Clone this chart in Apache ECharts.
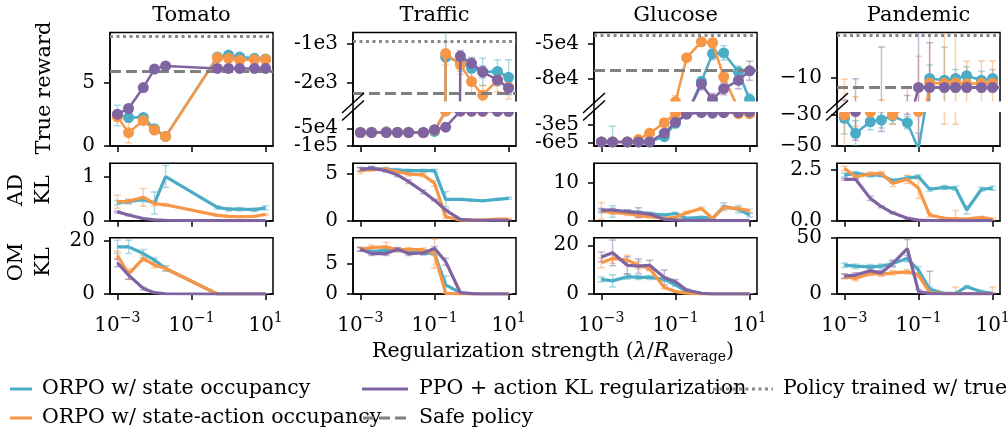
<!DOCTYPE html>
<html><head><meta charset="utf-8">
<script src="https://cdn.jsdelivr.net/npm/echarts@6/dist/echarts.min.js"></script>
<style>html,body{margin:0;padding:0;background:#fff}#c{width:1008px;height:431px}</style>
</head><body><div id="c"></div>
<script>
// ---------------- DATA ----------------
const lambdaX = [0.001,0.002,0.005,0.01,0.02,0.05,0.1,0.2,0.5,1,2,5,10];
const tomatoLambdaX = [0.001,0.002,0.005,0.01,0.02,0.5,1,2,5,10];
const xTickValues = [0.001, 0.1, 10];
const envNames = ['Tomato','Traffic','Glucose','Pandemic'];
const methodNames = ['ORPO w/ state occupancy','ORPO w/ state-action occupancy','PPO + action KL regularization'];

// Tomato
const tomatoRewardState = [2.4,2.25,2.25,1.35,0.75,7.0,7.15,7.0,6.9,6.85];
const tomatoRewardStateErr = [0.8,0.25,0.2,0.15,0.1,0.15,0.15,0.15,0.15,0.15];
const tomatoRewardSA = [2.3,1.05,2.0,1.25,0.75,6.95,6.9,6.75,6.8,6.8];
const tomatoRewardSAErr = [0.35,0.8,0.3,0.2,0.1,0.15,0.15,0.15,0.15,0.15];
const tomatoRewardPPO = [2.5,2.95,4.6,6.05,6.3,6.1,6.1,6.1,6.1,6.1];
const tomatoRewardPPOErr = [0.15,0.15,0.15,0.1,0.1,0.1,0.1,0.1,0.1,0.1];
const tomatoADState = [0.41,0.43,0.48,0.40,1.0,0.30,0.26,0.26,0.25,0.29];
const tomatoADStateErr = [0.05,0.05,0.05,0.25,0.25,0.04,0.04,0.04,0.04,0.05];
const tomatoADSA = [0.43,0.44,0.53,0.39,0.36,0.12,0.10,0.09,0.10,0.14];
const tomatoADSAErr = [0.15,0.05,0.2,0.05,0.03,0.02,0.02,0.02,0.02,0.02];
const tomatoADPPO = [0.2,0.13,0.05,0.02,0.01,0,0,0,0,0];
const tomatoADPPOErr = [0.02,0.02,0.01,0.01,0,0,0,0,0,0];
const tomatoOMState = [17.75,17.75,15.25,12.75,9.6,0,0,0,0,0];
const tomatoOMStateErr = [2.5,2.5,1.5,0.8,1.0,0,0,0,0,0];
const tomatoOMSA = [14.6,7.5,13.4,10.9,9.6,0,0,0,0,0];
const tomatoOMSAErr = [1.5,2.0,1.2,1.0,0.8,0,0,0,0,0];
const tomatoOMPPO = [11.75,7.1,2.1,0.5,0.1,0,0,0,0,0];
const tomatoOMPPOErr = [1.5,1.5,0.5,0.2,0.1,0,0,0,0,0];
const tomatoTrueReward = 8.6, tomatoSafeReward = 5.89;

// Traffic
const trafficRewardState = [-62000,-61000,-60000,-61000,-61000,-62000,-59000,-1350,-1470,-1640,-1730,-1720,-1870];
const trafficRewardStateErr = [2000,2000,2000,2000,2000,3000,3000,1500,250,250,350,300,450];
const trafficRewardSA = [-62000,-62000,-61000,-62000,-62000,-63000,-55000,-1260,-1550,-1980,-2330,-1940,-2130];
const trafficRewardSAErr = [2000,2000,2000,2000,2000,6000,5000,300,250,300,250,300,300];
const trafficRewardPPO = [-62000,-62000,-62000,-62000,-62000,-62000,-54000,-47000,-1330,-1510,-1730,-1940,-2150];
const trafficRewardPPOErr = [1000,1000,1000,1000,1000,1000,2000,2000,150,150,150,150,150];
const trafficADState = [5.5,5.6,5.5,5.43,5.36,5.36,5.36,2.29,2.29,2.2,2.14,2.29,2.4];
const trafficADStateErr = [0.2,0.2,0.2,0.15,0.15,0.15,0.15,0.8,0.1,0.1,0.1,0.1,0.1];
const trafficADSA = [5.36,5.5,5.5,5.25,5.0,4.9,4.0,0.43,0.07,0.07,0.07,0.18,0.18];
const trafficADSAErr = [0.3,0.2,0.2,0.2,0.2,0.2,0.3,0.2,0.05,0.05,0.05,0.05,0.05];
const trafficADPPO = [5.5,5.6,5.36,4.9,4.18,3.1,2.2,1.14,0.14,0.07,0.05,0.05,0.05];
const trafficADPPOErr = [0.2,0.2,0.2,0.2,0.2,0.2,0.1,0.1,0.05,0.02,0.02,0.02,0.02];
const trafficOMState = [7.3,6.9,7.2,7.2,6.9,6.7,6.6,1.5,0.2,0.05,0,0,0];
const trafficOMStateErr = [0.3,0.3,0.3,0.3,0.3,0.3,0.3,1.5,0.1,0.05,0,0,0];
const trafficOMSA = [7.3,7.6,7.7,7.2,7.3,7.2,6.6,0.1,0,0,0,0,0];
const trafficOMSAErr = [0.3,0.4,0.7,0.3,0.3,0.3,2.4,0.1,0,0,0,0,0];
const trafficOMPPO = [7.3,6.6,6.6,7.3,6.6,6.7,7.45,5.3,0.2,0.05,0,0,0];
const trafficOMPPOErr = [0.3,0.3,0.3,0.3,0.3,0.3,0.3,0.6,0.1,0.05,0,0,0];
const trafficTrueReward = -940, trafficSafeReward = -2290;

// Glucose
const glucoseRewardState = [-590000,-590000,-590000,-590000,-590000,-500000,-270000,-110000,-82000,-58700,-58000,-74000,-97000];
const glucoseRewardStateErr = [10000,270000,10000,10000,10000,20000,20000,10000,4000,5000,6000,5000,5000];
const glucoseRewardSA = [-590000,-590000,-590000,-550000,-440000,-260000,-99000,-62000,-48700,-49500,-78000,-105000,-105000];
const glucoseRewardSAErr = [10000,10000,10000,10000,20000,20000,5000,3000,3000,3000,4000,3000,3000];
const glucoseRewardPPO = [-590000,-590000,-590000,-590000,-590000,-440000,-250000,-110000,-84000,-97000,-88000,-81000,-73000];
const glucoseRewardPPOErr = [10000,10000,10000,10000,10000,60000,20000,10000,5000,5000,5000,7000,8000];
const glucoseADState = [2.5,2.4,2.4,2.2,1.9,1.5,1.9,0.6,0.9,0.6,3.7,3.0,1.5];
const glucoseADStateErr = [0.5,1.5,0.5,0.4,0.3,0.3,0.3,0.3,0.3,0.3,1.0,1.0,0.5];
const glucoseADSA = [2.6,2.1,1.9,1.3,1.05,0.6,0.9,2.1,3.2,0.6,3.5,3.2,2.6];
const glucoseADSAErr = [2.2,0.5,0.5,0.3,0.3,0.2,0.3,0.4,0.4,0.2,0.5,0.5,0.5];
const glucoseADPPO = [2.8,2.8,2.4,2.1,1.75,0.35,0.2,0.1,0.05,0,0,0,0];
const glucoseADPPOErr = [0.4,0.4,0.4,1.3,0.3,0.1,0.1,0.05,0,0,0,0,0];
const glucoseOMState = [6.0,5.4,7.1,6.8,6.8,6.0,3.7,1.0,0.3,0,0,0,0];
const glucoseOMStateErr = [1.0,2.5,1.0,0.8,0.8,0.8,0.5,0.3,0.1,0,0,0,0];
const glucoseOMSA = [12.8,14.6,13.9,11.8,10.5,2.7,1.0,0.3,0,0,0,0,0];
const glucoseOMSAErr = [2.0,2.0,2.0,1.5,1.0,0.5,0.3,0.1,0,0,0,0,0];
const glucoseOMPPO = [15.2,16.9,11.8,11.4,11.8,6.8,5.0,1.6,0.3,0,0,0,0];
const glucoseOMPPOErr = [2.0,5.3,3.5,3.0,2.0,3.0,1.0,0.5,0.1,0,0,0,0];
const glucoseTrueReward = -43000, glucoseSafeReward = -72400;

// Pandemic
const pandemicRewardState = [-32.5,-42,-34.7,-33.6,-31,-35.3,-52,-10.2,-10.6,-10.2,-9.6,-10.6,-10.2];
const pandemicRewardStateErr = [10,8,5,5,5,4,10,3,7.3,2,2,2,2];
const pandemicRewardSA = [-30.4,-26,-28.6,-25,-30.4,-25,-28.3,-11.2,-11.3,-11.2,-11.4,-11.3,-11.3];
const pandemicRewardSAErr = [20,11.7,8,10,6,12.6,23,12,25,25,5,5,5];
const pandemicRewardPPO = [-25,-28.3,-24,-22,-24,-22,-12.2,-12.2,-12.2,-12.2,-12.2,-12.2,-12.2];
const pandemicRewardPPOErr = [10,18,6,18.8,6,8,40,9.9,1,1,1,1,1];
const pandemicADState = [2.25,2.33,2.25,2.25,1.97,2.1,2.17,1.55,1.64,1.6,0.53,1.55,1.6];
const pandemicADStateErr = [0.1,0.1,0.1,0.1,0.1,0.1,0.1,0.1,0.1,0.1,0.2,0.1,0.1];
const pandemicADSA = [2.58,2.17,2.3,2.33,1.84,2.04,1.6,0.28,0.12,0.1,0.08,0.16,0.08];
const pandemicADSAErr = [0.1,0.1,0.1,0.1,0.15,0.2,0.5,0.1,0.05,0.4,0.05,0.05,0.05];
const pandemicADPPO = [2.04,2.04,1.1,0.69,0.39,0.12,0.03,0.01,0,0,0,0,0];
const pandemicADPPOErr = [0.05,0.05,0.1,0.05,0.05,0.05,0.02,0,0,0,0,0,0];
const pandemicOMState = [25.6,24.7,24.1,24.7,27,31.5,21.2,4.1,0.6,0.6,6.5,2,0.6];
const pandemicOMStateErr = [2,2,2,2,2,3,3,2,0.5,0.5,1,1,0.5];
const pandemicOMSA = [15.3,13.8,18.2,17.6,18.8,19.7,16.8,1.2,0.3,0.3,0.3,0.3,0.3];
const pandemicOMSAErr = [2,2,2,2,2,2,2,0.5,0.3,6,0.3,0.3,6];
const pandemicOMPPO = [15.9,16.8,20.6,18.8,27,40.3,2.1,0.3,0.2,0.2,0.2,0.2,0.3];
const pandemicOMPPOErr = [2,2,2,2,3,8,2,20,0.2,0.2,0.2,0.2,0.2];
const pandemicTrueReward = -0.56, pandemicSafeReward = -12.18;

// axis ranges and ticks
const tomatoRewardRange = [0, 8.93], tomatoRewardTicks = [0, 5], tomatoRewardTickLabels = ['0','5'];
const trafficUpperRange = [-2530, -720], trafficUpperTicks = [-2000, -1000], trafficUpperTickLabels = ['-2e3','-1e3'];
const trafficLowerRange = [-100000, 0], trafficLowerTicks = [-100000, -50000], trafficLowerTickLabels = ['-1e5','-5e4'];
const glucoseUpperRange = [-100000, -40900], glucoseUpperTicks = [-80000, -50000], glucoseUpperTickLabels = ['-8e4','-5e4'];
const glucoseLowerRange = [-660000, -50000], glucoseLowerTicks = [-600000, -300000], glucoseLowerTickLabels = ['-6e5','-3e5'];
const pandemicUpperRange = [-15.67, 0], pandemicUpperTicks = [-10], pandemicUpperTickLabels = ['\u221210'];
const pandemicLowerRange = [-50, -27.6], pandemicLowerTicks = [-50, -30], pandemicLowerTickLabels = ['\u221250','\u221230'];
const adRanges = [[0,1.3],[0,6.15],[0,15.1],[0,2.83]];
const adTicks = [[0,1],[0,5],[0,10],[0,2.5]];
const adTickLabels = [['0','1'],['0','5'],['0','10'],['0.0','2.5']];
const omRanges = [[0,21.2],[0,9.2],[0,23.1],[0,50]];
const omTicks = [[0,20],[0,5],[0,20],[0,50]];
const omTickLabels = [['0','20'],['0','5'],['0','20'],['0','50']];

// ---------------- STYLE / LAYOUT ----------------
const FONT = 'DejaVu Serif';
const methodColors = ['#4BACC6','#F79646','#8064A2'];
const L = { left:[110,353,594,837], width:163,
  rewardTop:32.5, rewardBottom:146, upperBottom:103, lowerTop:110.5,
  adTop:163.3, adBottom:220.7, omTop:237.7, omBottom:294 };
const xMinVal = Math.pow(10,-3.2), xMaxVal = Math.pow(10,1.2);

const grids=[], xAxes=[], yAxes=[], series=[];

function errRender(color){
  return function(params, api){
    const x = api.value(0), lo = api.value(1), hi = api.value(2);
    const a = api.coord([x, lo]), b = api.coord([x, hi]);
    const w = 3.5;
    const st = {stroke: color, lineWidth: 1.5, opacity: 0.45, fill: null};
    return {type:'group', children:[
      {type:'line', shape:{x1:a[0],y1:a[1],x2:b[0],y2:b[1]}, style:st},
      {type:'line', shape:{x1:a[0]-w,y1:a[1],x2:a[0]+w,y2:a[1]}, style:st},
      {type:'line', shape:{x1:b[0]-w,y1:b[1],x2:b[0]+w,y2:b[1]}, style:st}
    ]};
  };
}
function supFmt(v){
  const e = Math.round(Math.log10(v));
  return '{b|10}{s|' + (e < 0 ? '\u2212' + (-e) : String(e)) + '}';
}
function yAxisDef(gi, range, tickVals, labelVals, allTicks, allLabels, showLine){
  return {type:'value', gridIndex:gi, position:'left', min:range[0], max:range[1],
    axisLine:{show:showLine, onZero:false, lineStyle:{color:'#000', width:1.5}},
    axisTick:{show:showLine, customValues:tickVals, length:6, lineStyle:{color:'#000', width:1.5}},
    axisLabel:{customValues:labelVals, showMinLabel:true, showMaxLabel:true, hideOverlap:false, margin:15, color:'#000',
      fontFamily:FONT, fontSize:20,
      formatter:function(v){ let k=-1; allTicks.forEach((t,i)=>{ if (Math.abs(t-v) <= 1e-6*Math.max(1,Math.abs(t))) k=i; }); return k>=0?allLabels[k]:''; }},
    splitLine:{show:false}};
}
function addPanel(o){
  const gi = grids.length;
  grids.push({left:o.left, top:o.top, width:L.width, height:o.bottom-o.top, show:true,
    borderColor:'#000', borderWidth:1.5, backgroundColor:'rgba(0,0,0,0)', containLabel:false, outerBoundsMode:'none'});
  xAxes.push({type:'log', logBase:10, gridIndex:gi, min:xMinVal, max:xMaxVal, show:o.xShow,
    axisLine:{show:true, onZero:false, lineStyle:{color:'#000', width:1.5}},
    axisTick:{show:true, customValues:xTickValues, length:6, lineStyle:{color:'#000', width:1.5}},
    axisLabel:{show:!!o.xLabels, customValues:xTickValues, formatter:supFmt, margin:17, color:'#000',
      rich:{b:{fontFamily:FONT, fontSize:20, color:'#000'}, s:{fontFamily:FONT, fontSize:14, color:'#000', padding:[0,0,16,0]}}},
    splitLine:{show:false}, minorTick:{show:false}, minorSplitLine:{show:false}});
  const ticks = o.ticks, labels = o.tickLabels;
  // main axis carries every tick mark and the even-indexed labels; a companion axis carries the odd-indexed labels
  const yi = yAxes.length;
  yAxes.push(yAxisDef(gi, o.range, ticks, ticks.filter((t,i)=>i%2===0), ticks, labels, true));
  const odd = ticks.filter((t,i)=>i%2===1);
  if (odd.length) yAxes.push(yAxisDef(gi, o.range, odd, odd, ticks, labels, false));
  o.vals.forEach((vals,k)=>{
    const errs = o.errs[k];
    series.push({type:'custom', xAxisIndex:gi, yAxisIndex:yi, clip:true, z:1, silent:true,
      renderItem: errRender(methodColors[k]), encode:{x:0, y:[1,2]},
      data: o.xs.map((x,i)=>[x, vals[i]-errs[i], vals[i]+errs[i]])});
  });
  if (o.refs) {
    series.push({type:'line', xAxisIndex:gi, yAxisIndex:yi, data:[], z:2, silent:true,
      markLine:{silent:true, symbol:['none','none'], label:{show:false}, animation:false,
        data:[
          {yAxis:o.refs[0], lineStyle:{type:[3,3.5], color:'#8a8a8a', width:3, cap:'butt'}},
          {yAxis:o.refs[1], lineStyle:{type:[11,5], color:'#808080', width:3, cap:'butt'}}
        ]}});
  }
  o.vals.forEach((vals,k)=>{
    series.push({type:'line', name:methodNames[k], xAxisIndex:gi, yAxisIndex:yi, z:3+k, silent:true, clip:true,
      data:o.xs.map((x,i)=>[x, vals[i]]),
      symbol:'circle', symbolSize:o.markers?11:0, showSymbol:!!o.markers,
      lineStyle:{color:methodColors[k], width:o.markers?2.5:3.2},
      itemStyle:{color:methodColors[k]}, emphasis:{disabled:true}});
  });
}

// ----- reward row -----
addPanel({left:L.left[0], top:L.rewardTop, bottom:L.rewardBottom, xs:tomatoLambdaX, xShow:true,
  vals:[tomatoRewardState,tomatoRewardSA,tomatoRewardPPO], errs:[tomatoRewardStateErr,tomatoRewardSAErr,tomatoRewardPPOErr],
  range:tomatoRewardRange, ticks:tomatoRewardTicks, tickLabels:tomatoRewardTickLabels, markers:true, refs:[tomatoTrueReward,tomatoSafeReward]});
const broken = [
  {vals:[trafficRewardState,trafficRewardSA,trafficRewardPPO], errs:[trafficRewardStateErr,trafficRewardSAErr,trafficRewardPPOErr],
   up:[trafficUpperRange,trafficUpperTicks,trafficUpperTickLabels], lo:[trafficLowerRange,trafficLowerTicks,trafficLowerTickLabels], refs:[trafficTrueReward,trafficSafeReward]},
  {vals:[glucoseRewardState,glucoseRewardSA,glucoseRewardPPO], errs:[glucoseRewardStateErr,glucoseRewardSAErr,glucoseRewardPPOErr],
   up:[glucoseUpperRange,glucoseUpperTicks,glucoseUpperTickLabels], lo:[glucoseLowerRange,glucoseLowerTicks,glucoseLowerTickLabels], refs:[glucoseTrueReward,glucoseSafeReward]},
  {vals:[pandemicRewardState,pandemicRewardSA,pandemicRewardPPO], errs:[pandemicRewardStateErr,pandemicRewardSAErr,pandemicRewardPPOErr],
   up:[pandemicUpperRange,pandemicUpperTicks,pandemicUpperTickLabels], lo:[pandemicLowerRange,pandemicLowerTicks,pandemicLowerTickLabels], refs:[pandemicTrueReward,pandemicSafeReward]}
];
broken.forEach((b,j)=>{
  const left = L.left[j+1];
  addPanel({left, top:L.rewardTop, bottom:L.upperBottom, xs:lambdaX, xShow:false, vals:b.vals, errs:b.errs,
    range:b.up[0], ticks:b.up[1], tickLabels:b.up[2], markers:true, refs:b.refs});
  addPanel({left, top:L.lowerTop, bottom:L.rewardBottom, xs:lambdaX, xShow:true, vals:b.vals, errs:b.errs,
    range:b.lo[0], ticks:b.lo[1], tickLabels:b.lo[2], markers:true});
});

// ----- AD KL row & OM KL row -----
const adVals = [[tomatoADState,tomatoADSA,tomatoADPPO],[trafficADState,trafficADSA,trafficADPPO],[glucoseADState,glucoseADSA,glucoseADPPO],[pandemicADState,pandemicADSA,pandemicADPPO]];
const adErrs = [[tomatoADStateErr,tomatoADSAErr,tomatoADPPOErr],[trafficADStateErr,trafficADSAErr,trafficADPPOErr],[glucoseADStateErr,glucoseADSAErr,glucoseADPPOErr],[pandemicADStateErr,pandemicADSAErr,pandemicADPPOErr]];
const omVals = [[tomatoOMState,tomatoOMSA,tomatoOMPPO],[trafficOMState,trafficOMSA,trafficOMPPO],[glucoseOMState,glucoseOMSA,glucoseOMPPO],[pandemicOMState,pandemicOMSA,pandemicOMPPO]];
const omErrs = [[tomatoOMStateErr,tomatoOMSAErr,tomatoOMPPOErr],[trafficOMStateErr,trafficOMSAErr,trafficOMPPOErr],[glucoseOMStateErr,glucoseOMSAErr,glucoseOMPPOErr],[pandemicOMStateErr,pandemicOMSAErr,pandemicOMPPOErr]];
for (let c=0;c<4;c++){
  const xs = c===0 ? tomatoLambdaX : lambdaX;
  addPanel({left:L.left[c], top:L.adTop, bottom:L.adBottom, xs, xShow:true, vals:adVals[c], errs:adErrs[c],
    range:adRanges[c], ticks:adTicks[c], tickLabels:adTickLabels[c], markers:false});
  addPanel({left:L.left[c], top:L.omTop, bottom:L.omBottom, xs, xShow:true, xLabels:true, vals:omVals[c], errs:omErrs[c],
    range:omRanges[c], ticks:omTicks[c], tickLabels:omTickLabels[c], markers:false});
}

// ---------------- GRAPHICS (titles, labels, breaks, legend) ----------------
const G = [];
function txt(x,y,text,size,extra){
  return Object.assign({type:'text', x, y, silent:true, z:120,
    style:Object.assign({text, fontFamily:FONT, fontSize:size, fill:'#000', align:'center', verticalAlign:'middle',
      textAlign:'center', textVerticalAlign:'middle'}, (extra&&extra.style)||{})}, extra&&extra.el||{});
}
envNames.forEach((n,i)=> G.push(txt(L.left[i]+L.width/2, 16, n, 21)));
G.push(txt(44.5, 88, 'True reward', 21, {el:{rotation:Math.PI/2}}));
G.push(txt(30, 190, 'AD\nKL', 21, {el:{rotation:Math.PI/2}, style:{lineHeight:27}}));
G.push(txt(30, 262, 'OM\nKL', 21, {el:{rotation:Math.PI/2}, style:{lineHeight:27}}));
G.push(txt(553, 352, 'Regularization strength ({i|\u03bb}/{i|R}{sub|average})', 20.5,
  {style:{rich:{i:{fontFamily:FONT, fontSize:20.5, fontStyle:'italic', fill:'#000'}, sub:{fontFamily:FONT, fontSize:14, fill:'#000', padding:[10,0,0,0]}}}}));
[1,2,3].forEach(i=>{
  const l = L.left[i], r = l + L.width;
  G.push({type:'rect', silent:true, z:100, shape:{x:l+0.8, y:L.upperBottom-1.5, width:r-l+2, height:L.lowerTop-L.upperBottom+3}, style:{fill:'#fff'}});
  G.push({type:'line', silent:true, z:101, shape:{x1:l,y1:L.upperBottom-2,x2:l,y2:L.lowerTop+2}, style:{stroke:'#000', lineWidth:1.5}});
  [L.upperBottom, L.lowerTop].forEach(yc=> G.push({type:'line', silent:true, z:101,
    shape:{x1:l-11,y1:yc+10,x2:l+11,y2:yc-10}, style:{stroke:'#000', lineWidth:1.5}}));
});
// legend
const legendRows = [389, 418];
function ltxt(x,y,text){ return {type:'text', x, y, silent:true, z:110,
  style:{text, fontFamily:FONT, fontSize:20.5, fill:'#000', align:'left', verticalAlign:'middle', textAlign:'left', textVerticalAlign:'middle'}}; }
function lline(x1,x2,y,color,dash){ return {type:'line', silent:true, z:111, shape:{x1,y1:y,x2,y2:y},
  style:{stroke:color, lineWidth:3, lineDash:dash||null}}; }
G.push(ltxt(42, legendRows[0], methodNames[0]));
G.push(ltxt(42, legendRows[1], methodNames[1]));
G.push(ltxt(419, legendRows[0], methodNames[2]));
G.push(ltxt(419, legendRows[1], 'Safe policy'));
G.push(ltxt(783, legendRows[0], 'Policy trained w/ true'));
G.push(lline(10,32,legendRows[0],methodColors[0]));
G.push(lline(10,32,legendRows[1],methodColors[1]));
G.push(lline(362,408,legendRows[0],methodColors[2]));
G.push(lline(363,408,legendRows[1],'#808080',[11,5]));
G.push(lline(713,773,legendRows[0],'#8a8a8a',[3,3.5]));

const chart = echarts.init(document.getElementById('c'), null, {renderer:'canvas', width:1008, height:431});
chart.setOption({
  animation:false,
  backgroundColor:'#fff',
  textStyle:{fontFamily:FONT},
  grid:grids, xAxis:xAxes, yAxis:yAxes, series:series,
  graphic:{elements:G}
});
</script></body></html>
